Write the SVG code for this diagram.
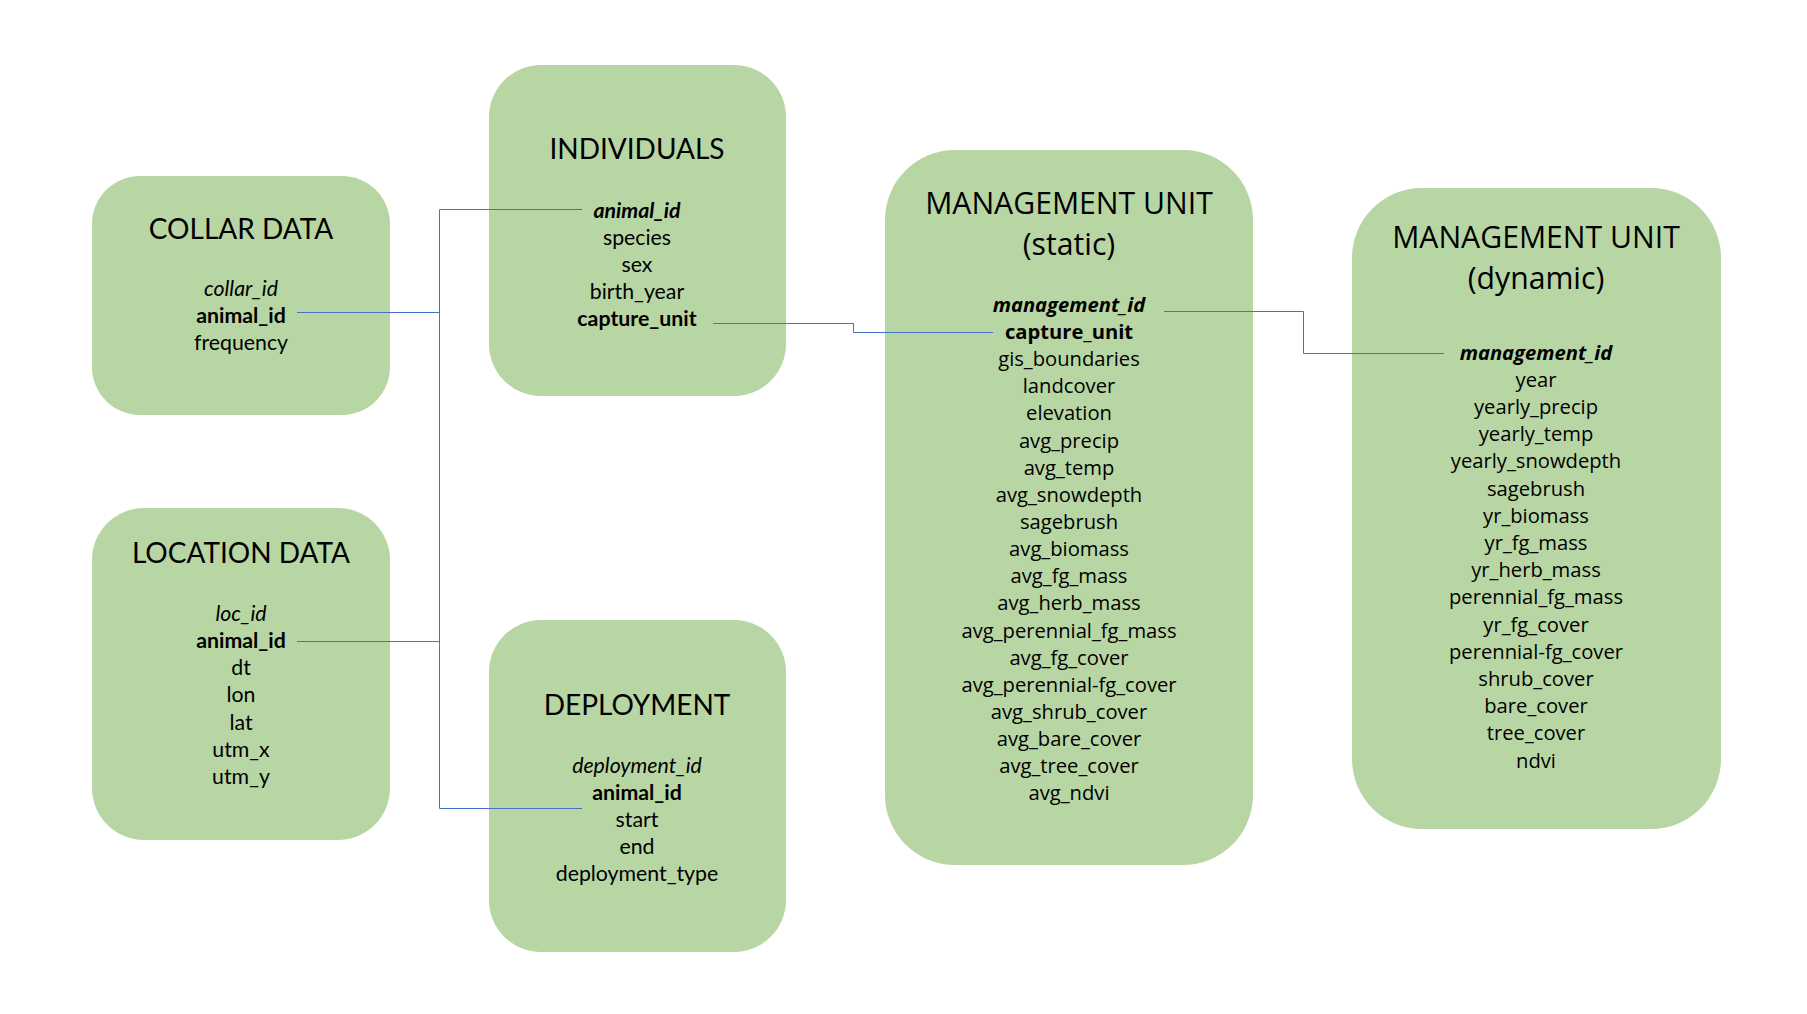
<svg xmlns="http://www.w3.org/2000/svg" width="1807" height="1014" viewBox="0 0 1807 1014">
<style>
.box{fill:#B8D6A4}
.t{font-family:Lato,"Liberation Sans",sans-serif;fill:#000;text-anchor:middle}
.h{font-size:28px}
.f{font-size:21.3px}
.s{font-family:"Open Sans","Noto Sans",sans-serif;fill:#000;text-anchor:middle}
.sh{font-size:30.2px}
.sf{font-size:20.2px}
.i{font-style:italic}
.b{font-weight:bold}
.c{fill:none;stroke:#4472C4;stroke-width:1}
</style>
<rect width="1807" height="1014" fill="#fff"/>
<g id="collar">
<rect class="box" x="92" y="176" width="298" height="239" rx="48"/>
<text class="t h" x="241" y="239">COLLAR DATA</text>
<text class="t f i" x="241" y="296">collar_id</text>
<text class="t f b" x="241" y="323">animal_id</text>
<text class="t f" x="241" y="350">frequency</text>
</g>
<g id="location">
<rect class="box" x="92" y="508" width="298" height="332" rx="52"/>
<text class="t h" x="241" y="563">LOCATION DATA</text>
<text class="t f i" x="241" y="621">loc_id</text>
<text class="t f b" x="241" y="648">animal_id</text>
<text class="t f" x="241" y="675">dt</text>
<text class="t f" x="241" y="702">lon</text>
<text class="t f" x="241" y="730">lat</text>
<text class="t f" x="241" y="757">utm_x</text>
<text class="t f" x="241" y="784">utm_y</text>
</g>
<g id="individuals">
<rect class="box" x="489" y="65" width="297" height="331" rx="52"/>
<text class="t h" x="637" y="159">INDIVIDUALS</text>
<text class="t f i b" x="637" y="218">animal_id</text>
<text class="t f" x="637" y="245">species</text>
<text class="t f" x="637" y="272">sex</text>
<text class="t f" x="637" y="299">birth_year</text>
<text class="t f b" x="637" y="326">capture_unit</text>
</g>
<g id="deployment">
<rect class="box" x="489" y="620" width="297" height="332" rx="52"/>
<text class="t h" x="637" y="715">DEPLOYMENT</text>
<text class="t f i" x="637" y="773">deployment_id</text>
<text class="t f b" x="637" y="800">animal_id</text>
<text class="t f" x="637" y="827">start</text>
<text class="t f" x="637" y="854">end</text>
<text class="t f" x="637" y="881">deployment_type</text>
</g>
<g id="mu-static">
<rect class="box" x="885" y="150" width="368" height="715" rx="70"/>
<text class="s sh" x="1069" y="214">MANAGEMENT UNIT</text>
<text class="s sh" x="1069" y="255">(static)</text>
<text class="s sf i b" x="1069" y="312">management_id</text>
<text class="s sf b" x="1069" y="339">capture_unit</text>
<text class="s sf" x="1069" y="366">gis_boundaries</text>
<text class="s sf" x="1069" y="393">landcover</text>
<text class="s sf" x="1069" y="420">elevation</text>
<text class="s sf" x="1069" y="448">avg_precip</text>
<text class="s sf" x="1069" y="475">avg_temp</text>
<text class="s sf" x="1069" y="502">avg_snowdepth</text>
<text class="s sf" x="1069" y="529">sagebrush</text>
<text class="s sf" x="1069" y="556">avg_biomass</text>
<text class="s sf" x="1069" y="583">avg_fg_mass</text>
<text class="s sf" x="1069" y="610">avg_herb_mass</text>
<text class="s sf" x="1069" y="638">avg_perennial_fg_mass</text>
<text class="s sf" x="1069" y="665">avg_fg_cover</text>
<text class="s sf" x="1069" y="692">avg_perennial-fg_cover</text>
<text class="s sf" x="1069" y="719">avg_shrub_cover</text>
<text class="s sf" x="1069" y="746">avg_bare_cover</text>
<text class="s sf" x="1069" y="773">avg_tree_cover</text>
<text class="s sf" x="1069" y="800">avg_ndvi</text>
</g>
<g id="mu-dynamic">
<rect class="box" x="1352" y="188" width="369" height="641" rx="70"/>
<text class="s sh" x="1536" y="248">MANAGEMENT UNIT</text>
<text class="s sh" x="1536" y="289">(dynamic)</text>
<text class="s sf i b" x="1536" y="360">management_id</text>
<text class="s sf" x="1536" y="387">year</text>
<text class="s sf" x="1536" y="414">yearly_precip</text>
<text class="s sf" x="1536" y="441">yearly_temp</text>
<text class="s sf" x="1536" y="468">yearly_snowdepth</text>
<text class="s sf" x="1536" y="496">sagebrush</text>
<text class="s sf" x="1536" y="523">yr_biomass</text>
<text class="s sf" x="1536" y="550">yr_fg_mass</text>
<text class="s sf" x="1536" y="577">yr_herb_mass</text>
<text class="s sf" x="1536" y="604">perennial_fg_mass</text>
<text class="s sf" x="1536" y="632">yr_fg_cover</text>
<text class="s sf" x="1536" y="659">perennial-fg_cover</text>
<text class="s sf" x="1536" y="686">shrub_cover</text>
<text class="s sf" x="1536" y="713">bare_cover</text>
<text class="s sf" x="1536" y="740">tree_cover</text>
<text class="s sf" x="1536" y="768">ndvi</text>
</g>
<g id="connectors">
<polyline class="c" points="297,312.5 439.5,312.5"/>
<polyline class="c" points="297,641.5 439.5,641.5"/>
<polyline class="c" points="582,209.5 439.5,209.5 439.5,808.5 582,808.5"/>
<polyline class="c" points="713,323.5 853.5,323.5 853.5,332.5 993,332.5"/>
<polyline class="c" points="1164,311.5 1303.5,311.5 1303.5,353.5 1444,353.5"/>
</g>
</svg>
